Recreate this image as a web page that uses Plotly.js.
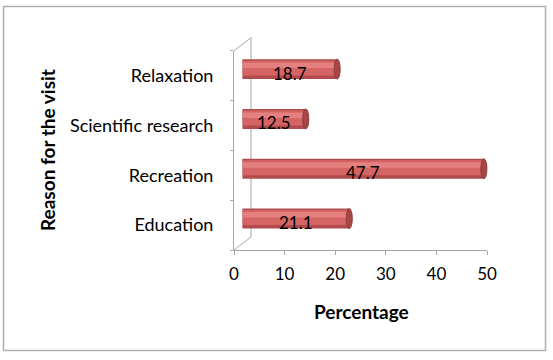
<!DOCTYPE html>
<html>
<head>
<meta charset="utf-8">
<script src="https://cdn.plot.ly/plotly-3.0.1.min.js"></script>
<style>
html,body{margin:0;padding:0;background:#fff;}
#chart{width:553px;height:360px;}
</style>
</head>
<body>
<div id="chart"></div>
<script>
// ---- data ----
const categories = ['Education', 'Recreation', 'Scientific research', 'Relaxation'];
const percentages = [21.1, 47.7, 12.5, 18.7];
const valueLabels = ['21.1', '47.7', '12.5', '18.7'];
const xTickValues = [0, 10, 20, 30, 40, 50];
const xTitle = 'Percentage';
const yTitle = 'Reason for the visit';

// ---- layout helpers (pixel geometry of the 3D frame) ----
const W = 553, H = 360;
const px = v => v / W;
const py = v => (H - v) / H;
const FONT = 'Lato, "Open Sans", sans-serif';

const frontX = [234, 487];
const frontY = [250, 50.7];
const depthDX = 8.5, depthDY = 6.5;

const barCommon = {
  type: 'bar', orientation: 'h', y: categories, x: percentages,
  xaxis: 'x2', yaxis: 'y2', hoverinfo: 'skip', showlegend: false
};

const traces = [
  // invisible trace so that the front axes are drawn
  {type: 'bar', orientation: 'h', y: categories, x: percentages, xaxis: 'x', yaxis: 'y',
   marker: {color: 'rgba(0,0,0,0)'}, hoverinfo: 'skip', showlegend: false},
  Object.assign({}, barCommon, {width: 0.4, marker: {color: '#b24c4c', line: {width: 0}}}),
  Object.assign({}, barCommon, {offset: -0.13, width: 0.3, marker: {color: '#d56565', line: {width: 0}}}),
  Object.assign({}, barCommon, {offset: 0.02, width: 0.11, marker: {color: '#e58080', line: {width: 0}}})
];

const shapes = [];
// end caps of cylinders
categories.forEach((c, i) => {
  shapes.push({type: 'circle', xref: 'x2', yref: 'y2',
    x0: percentages[i] - 0.6, x1: percentages[i] + 0.6, y0: i - 0.2, y1: i + 0.2,
    fillcolor: '#a94646', line: {color: '#8c3a3a', width: 1}, layer: 'above'});
  shapes.push({type: 'circle', xref: 'x2', yref: 'y2',
    x0: -0.6, x1: 0.6, y0: i - 0.2, y1: i + 0.2,
    fillcolor: '#c85a5a', line: {width: 0}, layer: 'below'});
});
// 3D frame lines
const frameColor = '#a6a6a6';
shapes.push({type: 'line', xref: 'paper', yref: 'paper',
  x0: px(frontX[0]), y0: py(frontY[1]), x1: px(frontX[0] + 2 * depthDX), y1: py(frontY[1] - 2 * depthDY),
  line: {color: frameColor, width: 1}, layer: 'below'});
shapes.push({type: 'line', xref: 'paper', yref: 'paper',
  x0: px(frontX[0] + 2 * depthDX), y0: py(frontY[1] - 2 * depthDY), x1: px(frontX[0] + 2 * depthDX), y1: py(frontY[0] - 2 * depthDY),
  line: {color: frameColor, width: 1}, layer: 'below'});
shapes.push({type: 'line', xref: 'paper', yref: 'paper',
  x0: px(frontX[0] + 2 * depthDX), y0: py(frontY[0] - 2 * depthDY), x1: px(frontX[0]), y1: py(frontY[0]),
  line: {color: frameColor, width: 1}, layer: 'below'});
// outer chart border
shapes.push({type: 'rect', xref: 'paper', yref: 'paper',
  x0: px(3.5), y0: py(350.5), x1: px(545.5), y1: py(6.5),
  line: {color: '#b0b0b0', width: 1.5}, fillcolor: 'rgba(0,0,0,0)', layer: 'below'});

const annotations = categories.map((c, i) => ({
  xref: 'x2', yref: 'y2', x: percentages[i] / 2, y: c, yshift: -4,
  xanchor: 'center', yanchor: 'middle',
  text: valueLabels[i], showarrow: false,
  font: {family: FONT, size: 17, color: '#000'}
}));
annotations.push({xref: 'paper', yref: 'paper', x: px(47), y: py(150),
  xanchor: 'center', yanchor: 'middle',
  text: '<b>' + yTitle + '</b>', textangle: -90, showarrow: false,
  font: {family: FONT, size: 19, color: '#000'}});
annotations.push({xref: 'paper', yref: 'paper', x: px(361), y: py(311),
  xanchor: 'center', yanchor: 'middle',
  text: '<b>' + xTitle + '</b>', showarrow: false,
  font: {family: FONT, size: 19, color: '#000'}});

const layout = {
  width: W, height: H,
  margin: {l: 0, r: 0, t: 0, b: 0},
  paper_bgcolor: '#fff', plot_bgcolor: 'rgba(0,0,0,0)',
  barmode: 'overlay',
  font: {family: FONT, size: 15, color: '#000'},
  xaxis: {
    domain: [px(frontX[0]), px(frontX[1])], range: [0, 50], anchor: 'y',
    tickvals: xTickValues, ticktext: xTickValues.map(String),
    showline: true, linecolor: frameColor, linewidth: 1,
    ticks: 'outside', ticklen: 4, tickcolor: frameColor,
    showgrid: false, zeroline: false, fixedrange: true,
    ticklabelstandoff: 5,
    tickfont: {family: FONT, size: 17, color: '#000'}
  },
  yaxis: {
    domain: [py(frontY[0]), py(frontY[1])], anchor: 'x',
    type: 'category', categoryarray: categories, categoryorder: 'array',
    range: [-0.5, categories.length - 0.5],
    showline: true, linecolor: frameColor, linewidth: 1,
    ticks: 'outside', ticklen: 3, tickcolor: frameColor, tickson: 'boundaries',
    showgrid: false, zeroline: false, fixedrange: true,
    ticklabelstandoff: 16,
    tickfont: {family: FONT, size: 18, color: '#000'}
  },
  xaxis2: {
    domain: [px(frontX[0] + depthDX), px(frontX[1] + depthDX)], range: [0, 50],
    anchor: 'y2', visible: false, fixedrange: true
  },
  yaxis2: {
    domain: [py(frontY[0] - depthDY), py(frontY[1] - depthDY)], anchor: 'x2',
    type: 'category', categoryarray: categories, categoryorder: 'array',
    range: [-0.5, categories.length - 0.5], visible: false, fixedrange: true
  },
  shapes: shapes,
  annotations: annotations
};

Plotly.newPlot('chart', traces, layout, {displayModeBar: false, staticPlot: true});
</script>
</body>
</html>
